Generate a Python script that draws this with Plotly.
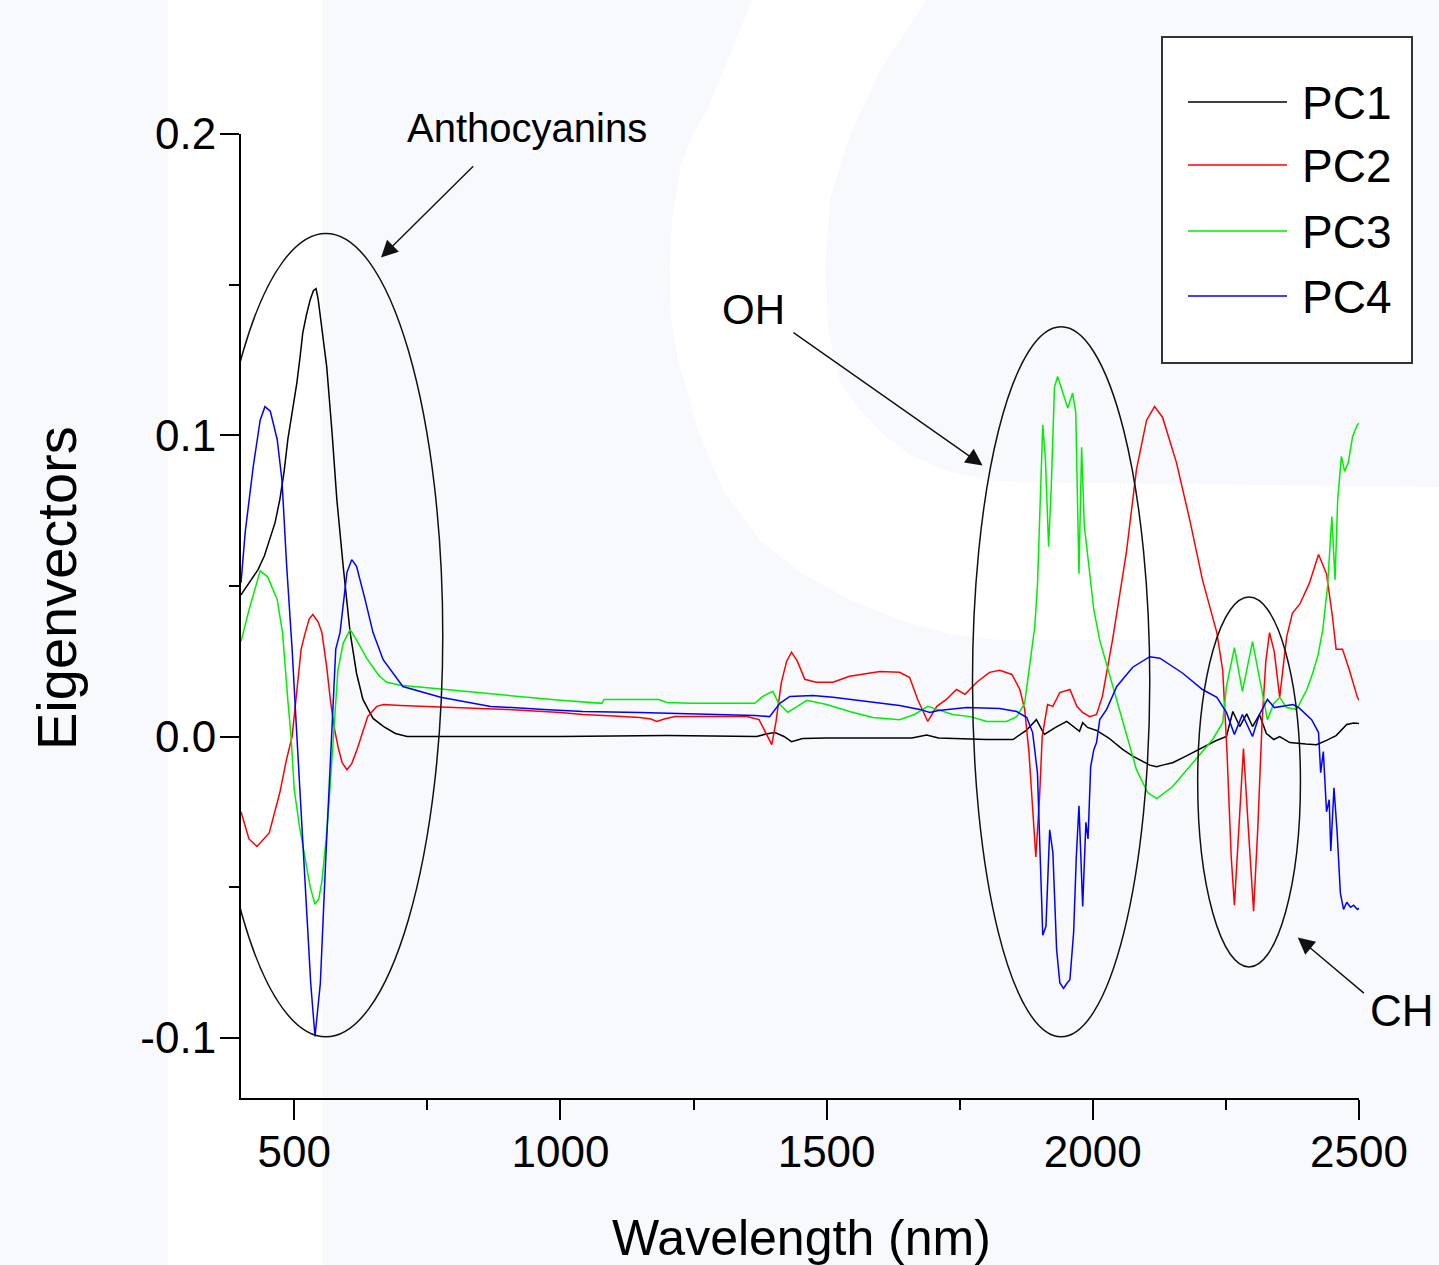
import plotly.graph_objects as go

# ---------------- data ----------------
pc1_wl = [400, 420, 432, 444, 454, 464, 473, 481, 488, 497, 505, 511, 516, 523, 530, 536, 541, 545,
          552, 561, 571, 580, 592, 605, 617, 629, 648, 668, 690, 712,
          800, 1000, 1200, 1369, 1386, 1403, 1420, 1434, 1455, 1500, 1600, 1660, 1688, 1710, 1800, 1850,
          1875, 1894, 1909, 1930, 1951, 1975, 1981, 1990, 2007, 2030, 2056, 2075, 2107, 2120, 2131,
          2150, 2175, 2200, 2230, 2251, 2263, 2276, 2289, 2300, 2313, 2326, 2340, 2351, 2370, 2400,
          2420, 2439, 2457, 2477, 2490, 2500]
pc1_val = [0.047, 0.052, 0.0554, 0.060, 0.0654, 0.071, 0.0787, 0.088, 0.0986, 0.108, 0.1175, 0.126,
           0.134, 0.140, 0.145, 0.148, 0.1487, 0.145, 0.136, 0.1228, 0.1009, 0.0787, 0.0564, 0.0345,
           0.021, 0.0123, 0.006, 0.0033, 0.001, 0.0,
           0.0, 0.0, 0.0003, 0.0, 0.0008, 0.0013, 0.0,
           -0.0017, -0.0007, -0.0005, -0.0005, -0.0005, 0.0005, -0.0005, -0.001, -0.001, 0.002, 0.0056,
           0.0007, 0.003, 0.005, 0.0017, 0.0046, 0.003, 0.002, -0.0005, -0.0043, -0.0065, -0.0095, -0.01,
           -0.0095, -0.0087, -0.0065, -0.0043, -0.0015, 0.0, 0.0083, 0.0033, 0.0075, 0.0033, 0.0073,
           0.001, -0.001, 0.0, -0.002, -0.0025, -0.0027, -0.0013, 0.0003, 0.004, 0.0045, 0.0043]

pc2_wl = [400, 415, 430, 453, 473, 485, 496, 505, 513, 520, 528, 535, 545, 552, 561, 568, 575, 583,
          590, 599, 608, 618, 628, 638, 655, 668, 700, 800, 900, 1000, 1042, 1100, 1149, 1170, 1181, 1195,
          1215, 1300, 1350, 1373, 1386, 1397, 1405, 1415, 1425, 1434, 1445, 1459, 1480, 1512, 1543, 1600,
          1637, 1656, 1671, 1690, 1707, 1725, 1744, 1760, 1782, 1806, 1825, 1848, 1863, 1872, 1880, 1887,
          1893, 1900, 1905, 1915, 1925, 1938, 1957, 1970, 1981, 1994, 2007, 2018, 2037, 2063, 2082, 2101,
          2116, 2131, 2157, 2182, 2206, 2233, 2244, 2252, 2260, 2266, 2273, 2283, 2292, 2302, 2310, 2318,
          2325, 2332, 2341, 2351, 2364, 2375, 2389, 2407, 2424, 2439, 2450, 2457, 2469, 2482, 2497, 2500]
pc2_val = [-0.025, -0.034, -0.0365, -0.032, -0.0186, -0.008, 0.0, 0.015, 0.029, 0.034, 0.039, 0.0405,
           0.038, 0.0345, 0.023, 0.012, 0.003, -0.004, -0.0087, -0.011, -0.009, -0.0043, 0.001, 0.0066,
           0.01, 0.0106, 0.0103, 0.0096, 0.009, 0.008, 0.0073, 0.0068, 0.0063, 0.0058, 0.005, 0.0058,
           0.0066, 0.0066, 0.0066, 0.0056, 0.0013, -0.0027, 0.005, 0.018, 0.025, 0.028, 0.025, 0.019,
           0.018, 0.018, 0.02, 0.0216, 0.0213, 0.0196, 0.0123, 0.005, 0.01, 0.0123, 0.0156, 0.014, 0.018,
           0.0213, 0.022, 0.0206, 0.0156, 0.009, -0.005, -0.025, -0.04, -0.02, 0.0, 0.0106, 0.01, 0.0146,
           0.0156, 0.01, 0.008, 0.0066, 0.0073, 0.0133, 0.032, 0.061, 0.0886, 0.105, 0.1095, 0.106, 0.091,
           0.072, 0.052, 0.0345, 0.022, -0.005, -0.04, -0.056, -0.035, -0.004, -0.03, -0.058, -0.03, 0.005,
           0.025, 0.0345, 0.028, 0.013, 0.033, 0.041, 0.044, 0.051, 0.0604, 0.054, 0.04, 0.029, 0.029,
           0.022, 0.013, 0.012]

pc3_wl = [400, 415, 436, 450, 468, 478, 488, 494, 500, 510, 520, 530, 539, 546, 552, 560, 567, 575,
          582, 592, 605, 614, 624, 636, 648, 660, 674, 700, 760, 877, 1000, 1078, 1082, 1185, 1200, 1243,
          1365, 1380, 1399, 1410, 1427, 1445, 1463, 1500, 1543, 1587, 1637, 1665, 1690, 1707, 1737, 1770,
          1801, 1838, 1857, 1872, 1881, 1891, 1896, 1900, 1906, 1911, 1917, 1922, 1928, 1934, 1944, 1953,
          1962, 1968, 1974, 1979, 1984, 1994, 2002, 2013, 2030, 2056, 2082, 2103, 2120, 2150, 2188, 2225,
          2244, 2251, 2266, 2281, 2300, 2313, 2328, 2340, 2351, 2364, 2383, 2402, 2413, 2423, 2432, 2441,
          2449, 2455, 2460, 2467, 2473, 2480, 2488, 2497, 2500]
pc3_val = [0.0315, 0.042, 0.055, 0.053, 0.0455, 0.0345, 0.012, 0.0, -0.0176, -0.030, -0.04, -0.050,
           -0.0557, -0.054, -0.048, -0.034, -0.0176, 0.005, 0.022, 0.031, 0.0355, 0.033, 0.03, 0.026,
           0.023, 0.020, 0.018, 0.017, 0.016, 0.014, 0.012, 0.011, 0.0123, 0.0123, 0.0113, 0.011, 0.011,
           0.0133, 0.015, 0.011, 0.008, 0.01, 0.012, 0.0106, 0.0083, 0.0063, 0.0056, 0.0073, 0.01, 0.009,
           0.0073, 0.0066, 0.005, 0.005, 0.0066, 0.011, 0.023, 0.0365, 0.05, 0.072, 0.1035, 0.092, 0.063,
           0.083, 0.116, 0.1195, 0.114, 0.109, 0.114, 0.1075, 0.054, 0.096, 0.07, 0.0545, 0.042, 0.032,
           0.0213, 0.0056, -0.011, -0.0186, -0.0206, -0.0166, -0.0087, -0.001, 0.0046, 0.0166, 0.0295,
           0.015, 0.0315, 0.019, 0.0056, 0.011, 0.013, 0.0096, 0.009, 0.0156, 0.021, 0.027, 0.0355, 0.05,
           0.073, 0.052, 0.0787, 0.093, 0.088, 0.091, 0.0996, 0.1035, 0.104]

pc4_wl = [400, 408, 423, 436, 445, 455, 468, 477, 486, 496, 505, 513, 522, 531, 539, 549, 560, 570,
          578, 586, 599, 608, 617, 633, 648, 667, 698, 704, 775, 869, 969, 1042, 1149, 1258, 1365, 1393,
          1412, 1431, 1474, 1512, 1575, 1637, 1675, 1694, 1710, 1763, 1825, 1857, 1876, 1887, 1896, 1901,
          1906, 1912, 1919, 1925, 1932, 1938, 1945, 1951, 1957, 1964, 1969, 1974, 1981, 1987, 1991, 1996,
          2002, 2007, 2013, 2026, 2045, 2075, 2107, 2126, 2169, 2206, 2233, 2251, 2266, 2281, 2300, 2313,
          2328, 2341, 2358, 2376, 2387, 2402, 2411, 2424, 2428, 2433, 2439, 2444, 2447, 2453, 2459, 2465,
          2471, 2477, 2484, 2490, 2497, 2500]
pc4_val = [0.051, 0.068, 0.0896, 0.105, 0.1095, 0.108, 0.0986, 0.085, 0.056, 0.029, 0.0, -0.0266,
           -0.055, -0.082, -0.0996, -0.082, -0.0375, 0.0013, 0.029, 0.0345, 0.0545, 0.0587, 0.0565,
           0.0455, 0.0345, 0.0255, 0.018, 0.0166, 0.013, 0.01, 0.009, 0.0083, 0.008, 0.0076, 0.007,
           0.0066, 0.011, 0.0133, 0.0136, 0.013, 0.0116, 0.0103, 0.009, 0.008, 0.0086, 0.0096, 0.0093,
           0.0083, 0.0063, 0.0013, -0.012, -0.043, -0.066, -0.063, -0.031, -0.0385, -0.0707, -0.0817,
           -0.0836, -0.082, -0.0807, -0.065, -0.04, -0.023, -0.0564, -0.0285, -0.034, -0.01, -0.0043,
           -0.002, 0.0056, 0.009, 0.0166, 0.023, 0.0265, 0.026, 0.021, 0.0156, 0.013, 0.008, 0.0007,
           0.0073, 0.0, 0.0073, 0.0123, 0.0096, 0.01, 0.0106, 0.0096, 0.0073, 0.0056, 0.0013, -0.012,
           -0.005, -0.025, -0.021, -0.038, -0.017, -0.032, -0.052, -0.0574, -0.055, -0.0567, -0.056,
           -0.0574, -0.057]

series_names = ["PC1", "PC2", "PC3", "PC4"]
series_colors = ["#000000", "#ff0000", "#00ee00", "#0000ff"]

x_ticks = [500, 1000, 1500, 2000, 2500]
y_ticks = [0.2, 0.1, 0.0, -0.1]
y_ticktext = ["0.2", "0.1", "0.0", "-0.1"]

# annotated regions (wavelength span, eigenvector span)
regions = {
    "Anthocyanins": (340, 779, -0.0997, 0.167),
    "OH": (1774, 2107, -0.0997, 0.136),
    "CH": (2197, 2390, -0.0765, 0.0463),
}

# ---------------- layout helpers ----------------
W, H = 1439, 1265
L, R, T, B = 241, 80, 134, 167
PW, PH = W - L - R, H - T - B


def px(xp):
    return (xp - L) / PW


def py(yp):
    return (H - B - yp) / PH


FONT = "Liberation Sans, Arial, sans-serif"
BG = "#f7f9fd"

fig = go.Figure()
for name, color, xs, ys in zip(series_names, series_colors,
                               [pc1_wl, pc2_wl, pc3_wl, pc4_wl],
                               [pc1_val, pc2_val, pc3_val, pc4_val]):
    fig.add_trace(go.Scatter(x=xs, y=ys, mode="lines", name=name,
                             line=dict(color=color, width=1.5), showlegend=False))

shapes = []
# background watermark: white vertical stripe and white "C" band
shapes.append(dict(type="rect", xref="paper", yref="paper", x0=px(168), x1=px(322),
                   y0=py(H), y1=py(0), fillcolor="white", line=dict(width=0), layer="below"))
outer = [(752, 0), (730, 55), (707, 110), (690, 140), (680, 170), (672, 220), (670, 267), (671, 320),
         (680, 367), (698, 430), (723, 490), (760, 540), (800, 572), (850, 600), (900, 620), (950, 634),
         (1000, 640), (1439, 640)]
inner = [(1439, 487), (1001, 482), (950, 472), (910, 455), (884, 435), (860, 410), (840, 383),
         (828, 330), (825, 267), (830, 200), (840, 165), (851, 133), (880, 70), (926, 0)]
pts = outer + inner
path = "M " + " L ".join(f"{px(a):.5f},{py(b):.5f}" for a, b in pts) + " Z"
shapes.append(dict(type="path", xref="paper", yref="paper", path=path, fillcolor="white",
                   line=dict(width=0), layer="below"))

# ellipses around regions
for key, (x0, x1, y0, y1) in regions.items():
    shapes.append(dict(type="circle", xref="x", yref="y", x0=x0, x1=x1, y0=y0, y1=y1,
                       line=dict(color="#111111", width=1.5)))

# manual legend box
shapes.append(dict(type="rect", xref="paper", yref="paper", x0=px(1162), x1=px(1412),
                   y0=py(363), y1=py(37), fillcolor="white", line=dict(color="#333333", width=2)))
legend_y = [102, 165, 231, 296]
annotations = []
for name, color, ly in zip(series_names, series_colors, legend_y):
    shapes.append(dict(type="line", xref="paper", yref="paper", x0=px(1188), x1=px(1287),
                       y0=py(ly), y1=py(ly), line=dict(color=color, width=1.5)))
    annotations.append(dict(xref="paper", yref="paper", x=px(1300), y=py(ly + 1), text=name,
                            showarrow=False, xanchor="left", yanchor="middle",
                            font=dict(family=FONT, size=46, color="black")))

# region labels
annotations.append(dict(xref="paper", yref="paper", x=px(527), y=py(128), text="Anthocyanins",
                        showarrow=False, xanchor="center", yanchor="middle",
                        font=dict(family=FONT, size=40, color="black")))
annotations.append(dict(xref="paper", yref="paper", x=px(753), y=py(309), text="OH",
                        showarrow=False, xanchor="center", yanchor="middle",
                        font=dict(family=FONT, size=42, color="black")))
annotations.append(dict(xref="paper", yref="paper", x=px(1402), y=py(1010), text="CH",
                        showarrow=False, xanchor="center", yanchor="middle",
                        font=dict(family=FONT, size=44, color="black")))

# arrows (tail -> tip), in data coordinates
arrows = [((839, 0.1898), (663, 0.159)),
          ((1435, 0.1344), (1793, 0.090)),
          ((2512, -0.0856), (2385, -0.0667))]
for (tx, ty), (hx, hy) in arrows:
    annotations.append(dict(x=hx, y=hy, ax=tx, ay=ty, xref="x", yref="y", axref="x", ayref="y",
                            text="", showarrow=True, arrowhead=2, arrowsize=2.4, arrowwidth=1.4,
                            arrowcolor="#111111"))

# axis titles
annotations.append(dict(xref="paper", yref="paper", x=px(801), y=py(1238), text="Wavelength (nm)",
                        showarrow=False, xanchor="center", yanchor="middle",
                        font=dict(family=FONT, size=50, color="black")))
annotations.append(dict(xref="paper", yref="paper", x=px(56), y=py(588), text="Eigenvectors",
                        showarrow=False, xanchor="center", yanchor="middle", textangle=-90,
                        font=dict(family=FONT, size=56, color="black")))

fig.update_layout(
    width=W, height=H,
    margin=dict(l=L, r=R, t=T, b=B),
    paper_bgcolor=BG, plot_bgcolor="rgba(0,0,0,0)",
    shapes=shapes, annotations=annotations, showlegend=False,
    xaxis=dict(range=[400, 2500], tickvals=x_ticks, ticks="outside", ticklen=20, tickwidth=2,
               tickcolor="black", showline=True, linecolor="black", linewidth=2, showgrid=False,
               zeroline=False, ticklabelstandoff=-6,
               tickfont=dict(family=FONT, size=44, color="black"),
               minor=dict(ticks="outside", ticklen=10, tickwidth=2, tickcolor="black",
                          dtick=250, tick0=0, showgrid=False)),
    yaxis=dict(range=[-0.12, 0.2], tickvals=y_ticks, ticktext=y_ticktext, ticks="outside",
               ticklen=19, tickwidth=2, tickcolor="black", showline=True, linecolor="black",
               linewidth=2, showgrid=False, zeroline=False, ticklabelstandoff=-5,
               tickfont=dict(family=FONT, size=44, color="black"),
               minor=dict(ticks="outside", ticklen=10, tickwidth=2, tickcolor="black",
                          dtick=0.05, tick0=0, showgrid=False)),
)

fig.write_html("out.html")
